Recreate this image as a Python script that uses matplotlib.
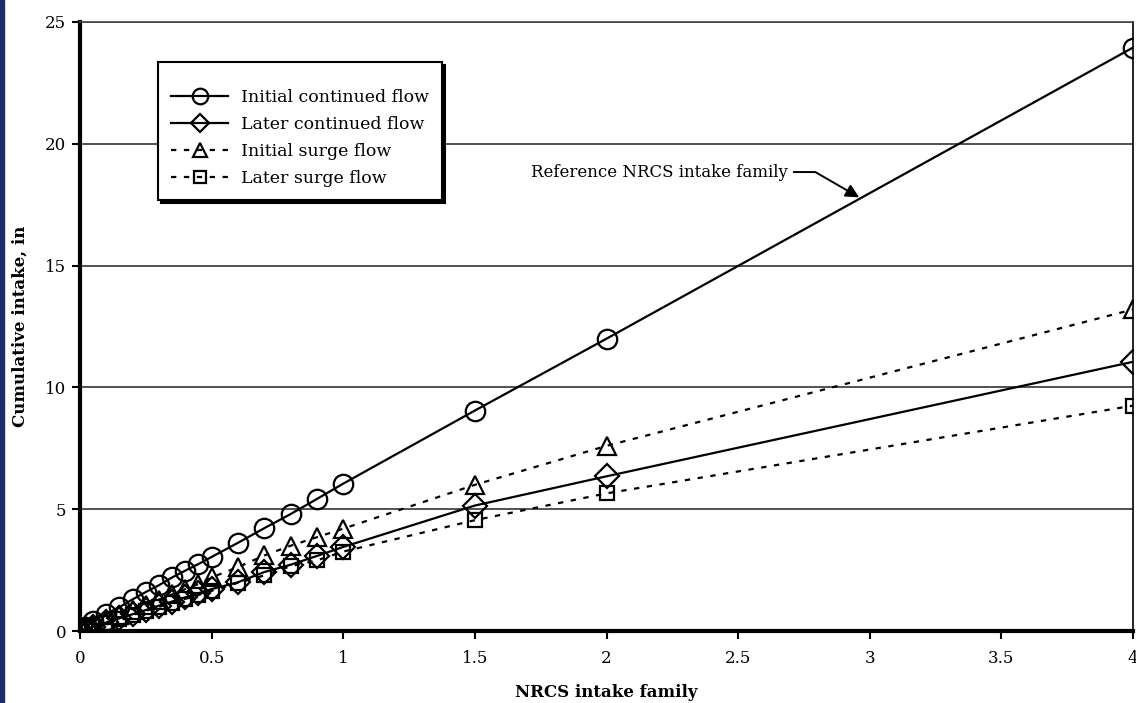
import numpy as np
import matplotlib
matplotlib.use('Agg')
from matplotlib import pyplot as plt
from matplotlib.ticker import FuncFormatter, MultipleLocator
from matplotlib.patches import Rectangle

# NRCS intake family (x) and cumulative intake, in (y)
family = [0.02, 0.05, 0.1, 0.15, 0.2, 0.25, 0.3, 0.35, 0.4, 0.45, 0.5,
          0.6, 0.7, 0.8, 0.9, 1.0, 1.5, 2.0, 4.0]
initial_continued = [0.15, 0.4, 0.7, 0.98, 1.3, 1.6, 1.88, 2.2, 2.48, 2.75, 3.04,
                     3.62, 4.22, 4.8, 5.42, 6.05, 9.05, 12.0, 23.95]
later_continued = [0.07, 0.18, 0.35, 0.52, 0.69, 0.86, 1.04, 1.21, 1.38, 1.55, 1.72,
                   2.0, 2.42, 2.72, 3.08, 3.45, 5.15, 6.35, 11.05]
initial_surge = [0.09, 0.22, 0.43, 0.65, 0.86, 1.07, 1.29, 1.5, 1.72, 1.93, 2.2,
                 2.62, 3.1, 3.5, 3.85, 4.2, 6.0, 7.6, 13.2]
later_surge = [0.07, 0.17, 0.33, 0.5, 0.66, 0.83, 0.99, 1.15, 1.32, 1.48, 1.65,
               1.98, 2.28, 2.66, 2.9, 3.26, 4.55, 5.65, 9.25]

series_labels = ['Initial continued flow', 'Later continued flow',
                 'Initial surge flow', 'Later surge flow']

plt.rcParams['font.family'] = ['DejaVu Serif']

fig = plt.figure(figsize=(11.36, 7.03), dpi=100)
ax = fig.add_axes([80 / 1136, 72 / 703, 1053 / 1136, 609 / 703])

# dark strip on the left edge
fig.patches.append(Rectangle((0, 0), 4 / 1136, 1, transform=fig.transFigure,
                             color='#1c2d6b', zorder=10))

lw = 1.6
dash = (0, (2.4, 3.4))
ax.plot(family, initial_continued, color='black', lw=lw, marker='o', ms=14,
        mfc='none', mew=1.6, label=series_labels[0])
ax.plot(family, later_continued, color='black', lw=lw, marker='D', ms=12,
        mfc='none', mew=1.6, label=series_labels[1])
ax.plot(family, initial_surge, color='black', lw=lw, ls=dash, marker='^', ms=13,
        mfc='none', mew=1.6, label=series_labels[2])
ax.plot(family, later_surge, color='black', lw=lw, ls=dash, marker='s', ms=10.5,
        mfc='none', mew=1.6, label=series_labels[3])

ax.set_xlim(0, 4)
ax.set_ylim(0, 25)
ax.xaxis.set_major_locator(MultipleLocator(0.5))
ax.yaxis.set_major_locator(MultipleLocator(5))
ax.xaxis.set_major_formatter(FuncFormatter(lambda v, p: '%g' % v))

ax.yaxis.grid(True, color='#444444', lw=1.3)
ax.set_axisbelow(True)

ax.spines['left'].set_linewidth(3)
ax.spines['bottom'].set_linewidth(3)
ax.spines['top'].set_linewidth(1.2)
ax.spines['top'].set_color('#444444')
ax.spines['right'].set_linewidth(1.2)

ax.tick_params(direction='out', length=6, width=1.5, labelsize=12)
ax.tick_params(axis='x', pad=8)
ax.tick_params(axis='y', pad=4)

ax.set_xlabel('NRCS intake family', fontsize=12, fontweight='bold', labelpad=12)
ax.set_ylabel('Cumulative intake, in', fontsize=12, fontweight='bold', labelpad=12)

ax.annotate('Reference NRCS intake family', xy=(2.96, 17.8), xytext=(2.69, 18.84),
            ha='right', va='center', fontsize=12,
            arrowprops=dict(arrowstyle='-|>', color='black', lw=1.4,
                            connectionstyle='angle,angleA=0,angleB=150,rad=0',
                            shrinkA=2, shrinkB=0, mutation_scale=20))

# tiny blank title gives the extra space above the first entry
leg = ax.legend(loc='upper left', bbox_to_anchor=(158 / 1136, 1 - 62 / 703),
                bbox_transform=fig.transFigure, borderaxespad=0, fontsize=12.5,
                title=' ', title_fontsize=2.5,
                handlelength=3.3, handletextpad=0.75, labelspacing=0.58,
                borderpad=0.75, markerscale=0.8, fancybox=False,
                edgecolor='black', framealpha=1,
                shadow={'color': 'black', 'alpha': 1})
leg.get_frame().set_linewidth(1.5)

fig.savefig('out.png', dpi=100)
